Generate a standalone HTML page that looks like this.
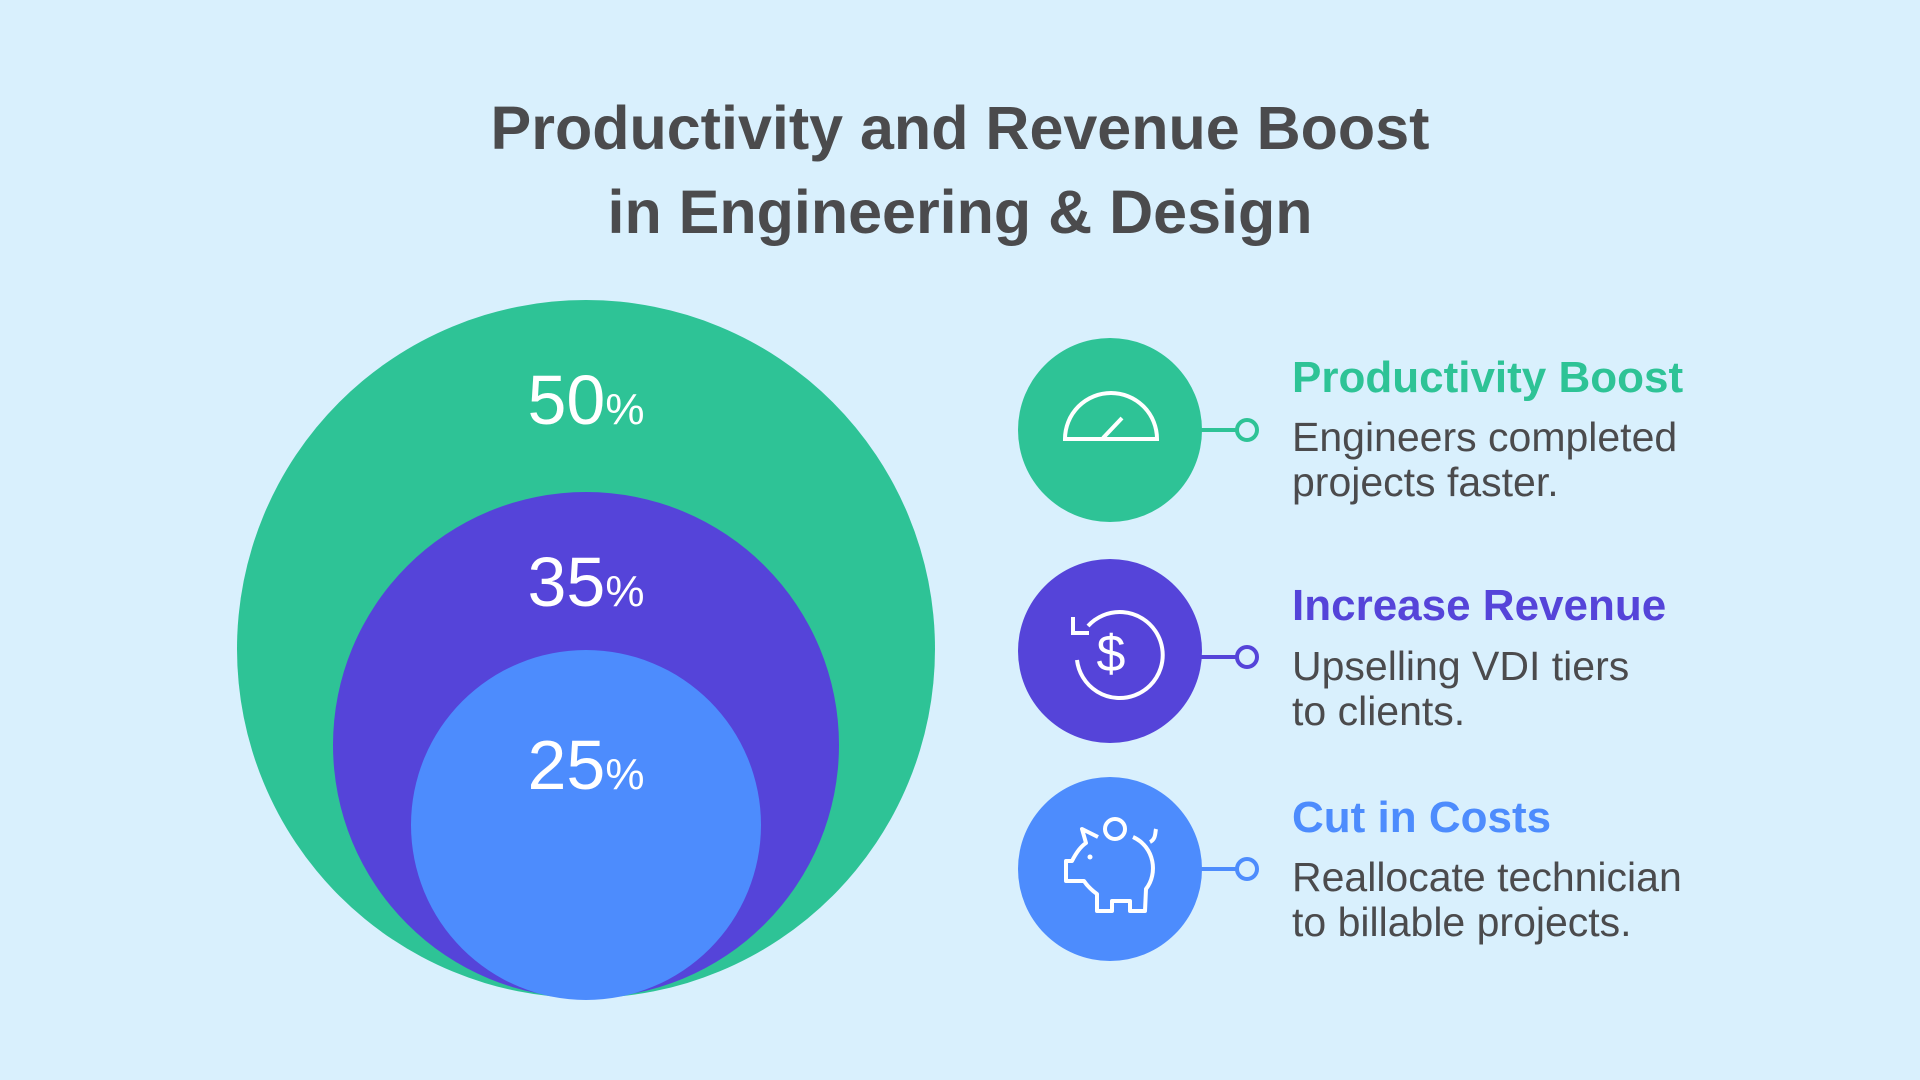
<!DOCTYPE html>
<html><head><meta charset="utf-8"><style>
html,body{margin:0;padding:0;width:1920px;height:1080px;background:#d9f0fd;overflow:hidden;font-family:"Liberation Sans",sans-serif;}
</style></head><body>
<svg width="1920" height="1080" viewBox="0 0 1920 1080" xmlns="http://www.w3.org/2000/svg" font-family="Liberation Sans, sans-serif">
<rect width="1920" height="1080" fill="#d9f0fd"/>
<text x="960" y="149" text-anchor="middle" font-size="61" font-weight="bold" fill="#4b4b4d">Productivity and Revenue Boost</text>
<text x="960" y="233" text-anchor="middle" font-size="61" font-weight="bold" fill="#4b4b4d">in Engineering &amp; Design</text>

<circle cx="586" cy="649" r="349" fill="#2ec396"/>
<circle cx="586" cy="745" r="253" fill="#5544d9"/>
<circle cx="586" cy="825" r="175" fill="#4d8cfd"/>
<g fill="#fff" text-anchor="middle">
<text x="586" y="424" font-size="70">50<tspan font-size="44">%</tspan></text>
<text x="586" y="606" font-size="70">35<tspan font-size="44">%</tspan></text>
<text x="586" y="789" font-size="70">25<tspan font-size="44">%</tspan></text>
</g>

<circle cx="1110" cy="430" r="92" fill="#2ec396"/>
<line x1="1200" y1="430" x2="1236" y2="430" stroke="#2ec396" stroke-width="4"/>
<circle cx="1247" cy="430" r="10" fill="#d9f0fd" stroke="#2ec396" stroke-width="4"/>
<g fill="none" stroke="#fff" stroke-width="4" transform="translate(0,-10)">
<path d="M1065 449 A45 45 0 0 1 1157 449 Z"/>
<line x1="1103" y1="448" x2="1122" y2="428"/>
</g>

<circle cx="1110" cy="651" r="92" fill="#5544d9"/>
<line x1="1200" y1="657" x2="1236" y2="657" stroke="#5544d9" stroke-width="4"/>
<circle cx="1247" cy="657" r="10" fill="#d9f0fd" stroke="#5544d9" stroke-width="4"/>
<g fill="none" stroke="#fff" stroke-width="4">
<path d="M1077 660 A43 43 0 1 0 1088 626"/>
<path d="M1073 617 L1073 633 L1089 633"/>
</g>
<text x="1111" y="671" font-size="52" fill="#fff" text-anchor="middle">$</text>

<circle cx="1110" cy="869" r="92" fill="#4d8cfd"/>
<line x1="1200" y1="869" x2="1236" y2="869" stroke="#4d8cfd" stroke-width="4"/>
<circle cx="1247" cy="869" r="10" fill="#d9f0fd" stroke="#4d8cfd" stroke-width="4"/>
<g transform="translate(0,-51)">
<g fill="none" stroke="#fff" stroke-width="4" stroke-linejoin="round">
<circle cx="1115" cy="880" r="10"/>
<path d="M1133 888 C1155 898 1158 925 1146 940 L1145 962 L1130 962 L1130 952 L1112 952 L1112 962 L1097 962 L1097 945 C1090 940 1086 935 1084 932 L1066 932 L1066 912 L1072 912 C1076 904 1080 898 1086 894 L1082 880 L1098 888"/>
<path d="M1150 893 C1156 890 1155 884 1156 880"/>
</g>
<circle cx="1090" cy="908" r="2.5" fill="#fff"/>
</g>

<g font-size="41" fill="#4b4b4d">
<text x="1292" y="392" font-size="44" font-weight="bold" fill="#2ec396">Productivity Boost</text>
<text x="1292" y="451">Engineers completed</text>
<text x="1292" y="496">projects faster.</text>
<text x="1292" y="620" font-size="44" font-weight="bold" fill="#5544d9">Increase Revenue</text>
<text x="1292" y="680">Upselling VDI tiers</text>
<text x="1292" y="725">to clients.</text>
<text x="1292" y="832" font-size="44" font-weight="bold" fill="#4d8cfd">Cut in Costs</text>
<text x="1292" y="891">Reallocate technician</text>
<text x="1292" y="936">to billable projects.</text>
</g>
</svg>
</body></html>
